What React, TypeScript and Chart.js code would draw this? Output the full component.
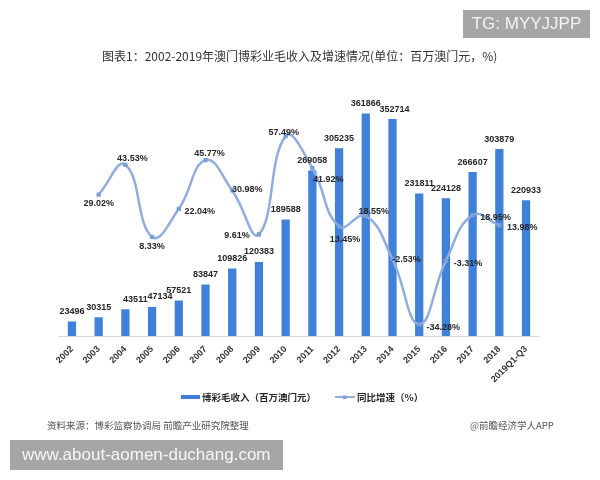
import React, { useEffect, useRef } from "react";
import { Chart, registerables } from "chart.js";

Chart.register(...registerables);

// 澳门博彩业毛收入（百万澳门元）及同比增速（%）
const years = [
  "2002", "2003", "2004", "2005", "2006", "2007", "2008", "2009", "2010",
  "2011", "2012", "2013", "2014", "2015", "2016", "2017", "2018", "2019Q1-Q3",
];
const grossRevenue = [
  23496, 30315, 43511, 47134, 57521, 83847, 109826, 120383, 189588,
  269058, 305235, 361866, 352714, 231811, 224128, 266607, 303879, 220933,
];
const growthRate: (number | null)[] = [
  null, 29.02, 43.53, 8.33, 22.04, 45.77, 30.98, 9.61, 57.49,
  41.92, 13.45, 18.55, -2.53, -34.28, -3.31, 18.95, 13.98, null,
];

const titleText = "图表1：2002-2019年澳门博彩业毛收入及增速情况(单位：百万澳门元，%)";
const revenueName = "博彩毛收入（百万澳门元）";
const growthName = "同比增速（%）";
const sourceText = "资料来源：博彩监察协调局 前瞻产业研究院整理";
const creditText = "@前瞻经济学人APP";
const tagText = "TG: MYYJJPP";
const siteText = "www.about-aomen-duchang.com";

const BAR_COLOR = "#3f81d8";
const LINE_COLOR = "#91acdd";
const POINT_COLOR = "#7b9fd9";
const TEXT_DARK = "#262626";
const NUM_FONT = "bold 9px 'Liberation Sans', Arial, sans-serif";
const CJK = "'Noto Sans CJK SC', 'Noto Sans', sans-serif";

// horizontal nudges for the revenue labels (px)
const revenueLabelDx = [0, 0, 10, 8, 0, 0, 0, 0, 0, 0, 0, 0, 2, 0, 0, 0, 0, 0];
// placement of the growth labels relative to their point (px)
const growthLabelOffset: [number, number][] = [
  [0, 0], [0, 9], [7, -6], [0, 10], [21, 3], [4, -7], [15, -1], [-22, 1], [-2, -4],
  [16, 11], [6, 13], [8, -4], [14, 0], [24, 3], [22, 3], [23, 2], [23, 2], [0, 0],
];

const valueLabels = {
  id: "valueLabels",
  afterDatasetsDraw(chart: any) {
    const ctx = chart.ctx;
    ctx.save();
    ctx.font = NUM_FONT;
    ctx.fillStyle = TEXT_DARK;
    ctx.textAlign = "center";
    ctx.textBaseline = "middle";
    const bars = chart.getDatasetMeta(0).data;
    bars.forEach((el: any, i: number) => {
      ctx.fillText(String(grossRevenue[i]), el.x + revenueLabelDx[i], el.y - 10);
    });
    const pts = chart.getDatasetMeta(1).data;
    pts.forEach((el: any, i: number) => {
      const v = growthRate[i];
      if (v === null || el.skip) return;
      const [dx, dy] = growthLabelOffset[i];
      ctx.fillText(v.toFixed(2) + "%", el.x + dx, el.y + dy);
    });
    ctx.restore();
  },
};

const decorations = {
  id: "decorations",
  beforeDraw(chart: any) {
    const ctx = chart.ctx;
    ctx.save();
    ctx.fillStyle = "#ffffff";
    ctx.fillRect(0, 0, chart.width, chart.height);
    ctx.restore();
  },
  afterDraw(chart: any) {
    const ctx = chart.ctx;
    ctx.save();

    // tag box, top right
    ctx.fillStyle = "#a6a6a6";
    ctx.fillRect(463, 10, 127, 28);
    ctx.fillStyle = "#f4f4f4";
    ctx.font = "17px 'Liberation Sans', Arial, sans-serif";
    ctx.textAlign = "center";
    ctx.textBaseline = "middle";
    ctx.fillText(tagText, 526.5, 24.5);

    // title
    ctx.fillStyle = "#333333";
    ctx.font = `12px ${CJK}`;
    ctx.textAlign = "left";
    ctx.fillText(titleText, 102, 56);

    // legend
    ctx.fillStyle = BAR_COLOR;
    ctx.fillRect(181, 395, 19, 4);
    ctx.fillStyle = TEXT_DARK;
    ctx.font = `bold 9.5px ${CJK}`;
    ctx.fillText(revenueName, 202, 397);
    ctx.strokeStyle = LINE_COLOR;
    ctx.lineWidth = 2;
    ctx.beginPath();
    ctx.moveTo(335, 397);
    ctx.lineTo(355, 397);
    ctx.stroke();
    ctx.fillStyle = POINT_COLOR;
    ctx.fillRect(343, 395.5, 3.5, 3.5);
    ctx.fillStyle = TEXT_DARK;
    ctx.fillText(growthName, 357, 397);

    // footer
    ctx.fillStyle = "#555555";
    ctx.font = `9.5px ${CJK}`;
    ctx.fillText(sourceText, 47, 425);
    ctx.fillText(creditText, 470, 425);

    // site box, bottom left
    ctx.fillStyle = "#a6a6a6";
    ctx.fillRect(10, 440, 273, 30);
    ctx.fillStyle = "#f7f7f7";
    ctx.font = "17px 'Liberation Sans', Arial, sans-serif";
    ctx.fillText(siteText, 22, 455.5);

    ctx.restore();
  },
};

export default function App() {
  const canvasRef = useRef<HTMLCanvasElement | null>(null);

  useEffect(() => {
    const canvas = canvasRef.current;
    if (!canvas) return;
    const chart = new Chart(canvas, {
      type: "bar",
      data: {
        labels: years,
        datasets: [
          {
            type: "bar",
            label: revenueName,
            data: grossRevenue,
            backgroundColor: BAR_COLOR,
            borderWidth: 0,
            barPercentage: 0.31,
            categoryPercentage: 1,
            yAxisID: "y",
            order: 2,
          },
          {
            type: "line",
            label: growthName,
            data: growthRate,
            borderColor: LINE_COLOR,
            borderWidth: 2.5,
            tension: 0.45,
            pointStyle: "rect",
            pointRadius: 3,
            pointBackgroundColor: POINT_COLOR,
            pointBorderColor: POINT_COLOR,
            pointBorderWidth: 0,
            yAxisID: "y1",
            order: 1,
          },
        ],
      },
      options: {
        responsive: false,
        animation: false,
        devicePixelRatio: 1,
        layout: { padding: { left: 58.6, right: 60.6, top: 90, bottom: 84 } },
        plugins: {
          legend: { display: false },
          title: { display: false },
          tooltip: { enabled: false },
        },
        scales: {
          x: {
            offset: true,
            grid: { display: false, drawTicks: false },
            border: { display: true, color: "#d9d9d9", width: 1 },
            ticks: {
              autoSkip: false,
              maxRotation: 45,
              minRotation: 45,
              padding: 8,
              color: "#333333",
              font: { family: "'Liberation Sans', Arial, sans-serif", size: 9, weight: "bold" },
            },
            afterFit: (scale: any) => {
              scale.height = 60;
            },
          },
          y: { display: false, min: 0, max: 400000 },
          y1: { display: false, min: -40, max: 80 },
        },
      },
      plugins: [decorations, valueLabels],
    });
    return () => chart.destroy();
  }, []);

  return (
    <div style={{ position: "fixed", left: 0, top: 0, width: 600, height: 480, background: "#fff" }}>
      <canvas ref={canvasRef} width={600} height={480} style={{ display: "block" }} />
    </div>
  );
}
